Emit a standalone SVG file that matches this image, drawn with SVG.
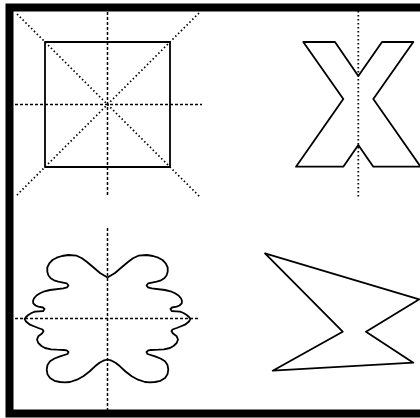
<svg xmlns="http://www.w3.org/2000/svg" width="420" height="418" viewBox="0 0 420 418">
<style>
.shape{fill:none;stroke:#000;stroke-width:1.8;stroke-linejoin:round}
.axis{fill:none;stroke:#000;stroke-width:1.5;stroke-dasharray:3 2}
.diag{fill:none;stroke:#000;stroke-width:1.7;stroke-dasharray:1.5 2.5}
</style>
<rect x="0" y="0" width="420" height="418" fill="#fff"/>
<rect x="9.5" y="7.5" width="420" height="406" fill="none" stroke="#000" stroke-width="8"/>
<g id="square">
<line class="axis" x1="107.5" y1="12" x2="107.5" y2="197"/>
<line class="axis" x1="15" y1="104.5" x2="202" y2="104.5"/>
<line class="diag" x1="17" y1="14" x2="200" y2="197"/>
<line class="diag" x1="199" y1="13" x2="16" y2="196"/>
<rect class="shape" x="45" y="42" width="125" height="125"/>
</g>
<g id="letter-x">
<line class="diag" x1="358.3" y1="11" x2="358.3" y2="197"/>
<polygon class="shape" points="303.3,42 335,42 358.3,76 382,42 413.3,42 373.3,99 420.6,166.7 373.3,166.7 358.3,145 343.3,166.7 296,166.7 343.3,99"/>
</g>
<g id="blob">
<line class="axis" x1="107.5" y1="228" x2="107.5" y2="410"/>
<line class="axis" x1="15" y1="318.5" x2="200" y2="318.5"/>
<polyline id="half" class="shape" points="107.5,277.5 115,273 122,267 128.3,261.7 133,258.3 138.3,255.7 146.7,255 153,256 158.3,257.7 162.5,260 165.7,263.3 167.7,267.5 167.7,271.7 166.5,275.5 164.3,278.3 161,280.3 156.7,281.7 148.3,283.3 146.5,285.5 148,287.3 151.7,288.3 165,290 170.5,291.3 175,293.3 178.5,295.5 181,298.3 182,301 181.7,303.3 179.5,305.5 176.7,306.7 172,307.5 170.5,309 171.7,311 176,311.3 180,311.7 183.5,313 186.7,315 189,317 190.3,319 189,321.5 185,324.7 180.5,326.5 176.7,328 172.5,329.5 171.5,331.3 173,333.5 176.7,336.3 178,339.5 176.7,343 173.5,346 170,348 164,349.3 158.3,349.7 151,350 148.3,350.3 146.5,352 147.5,354 155,356.3 160.5,358.5 165,361.3 167.5,365 168.3,369.7 167.5,374.3 165,378 160.5,380.8 155,382 150,382.3 145,382 138,379.7 131.7,376.3 125.5,371.5 120,366.3 115.5,362.8 111.7,360.7 107.5,359.5"/>
<use href="#half" transform="translate(215,0) scale(-1,1)"/>
</g>
<g id="zigzag">
<polygon class="shape" points="265,253.3 419.3,299.3 366,331.7 413.3,362.7 272.7,370.7 342.7,331.7"/>
</g>
</svg>
